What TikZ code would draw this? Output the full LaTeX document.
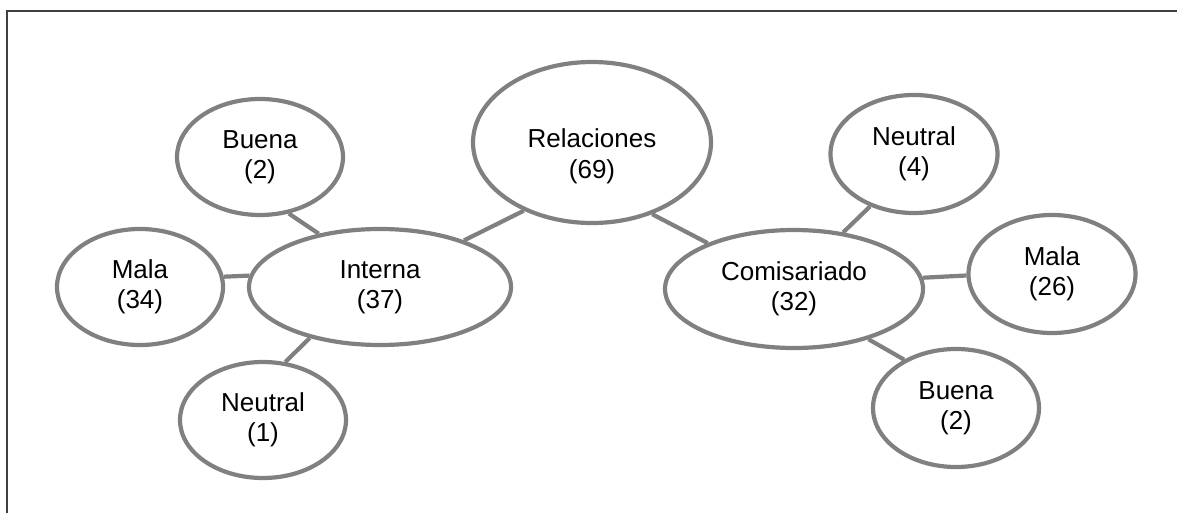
\documentclass[tikz,border=0pt]{standalone}
\usepackage{fontspec}
\setmainfont{Liberation Sans}
\usetikzlibrary{shapes.geometric}
\definecolor{edgegray}{HTML}{808080}
\definecolor{framegray}{HTML}{404040}
\begin{document}
\begin{tikzpicture}[x=1pt,y=1pt,
  bubble/.style={ellipse,draw=edgegray,line width=4.2pt,inner sep=0pt,align=center,
     font=\fontsize{26}{30}\selectfont,text=black},
  bubbletext/.style={align=center,font=\fontsize{26}{31}\selectfont,text=black,inner sep=0pt},
  link/.style={draw=edgegray,line width=4.2pt}]
\useasboundingbox (0,0) rectangle (1177,-513);
\draw[framegray,line width=2.5pt] (7,-513) -- (7,-11) -- (1177,-11);
% left group
\node[bubble,minimum width=166pt,minimum height=116pt] (buenaL) at (260,-157) {Buena\\(2)};
\node[bubble,minimum width=166pt,minimum height=116pt] (malaL) at (140,-287) {Mala\\(34)};
\node[bubble,minimum width=262pt,minimum height=116pt] (interna) at (380,-287) {Interna\\(37)};
\node[bubble,minimum width=166pt,minimum height=116pt] (neutralL) at (263,-420) {Neutral\\(1)};
% centre
\node[bubble,minimum width=238pt,minimum height=161pt,
  label={[bubbletext,yshift=-14pt]center:Relaciones\\(69)}] (rel) at (592,-142.5) {};
% right group
\node[bubble,minimum width=258pt,minimum height=118pt] (comis) at (794,-289) {Comisariado\\(32)};
\node[bubble,minimum width=167pt,minimum height=118pt] (neutralR) at (914,-154) {Neutral\\(4)};
\node[bubble,minimum width=167pt,minimum height=118pt] (malaR) at (1052,-274) {Mala\\(26)};
\node[bubble,minimum width=166pt,minimum height=118pt] (buenaR) at (956,-408) {Buena\\(2)};
% connectors
\path[link] (buenaL.-63) -- (interna.139);
\path[link] (malaL.7.4) -- (interna.175.3);
\path[link] (interna.216.6) -- (neutralL.69.9);
\path[link] (interna.29.7) -- (rel.225);
\path[link] (rel.310.2) -- (comis.152.1);
\path[link] (comis.49.8) -- (neutralR.230.2);
\path[link] (comis.5.2) -- (malaR.181.3);
\path[link] (comis.326.7) -- (buenaR.137.8);
\end{tikzpicture}
\end{document}
